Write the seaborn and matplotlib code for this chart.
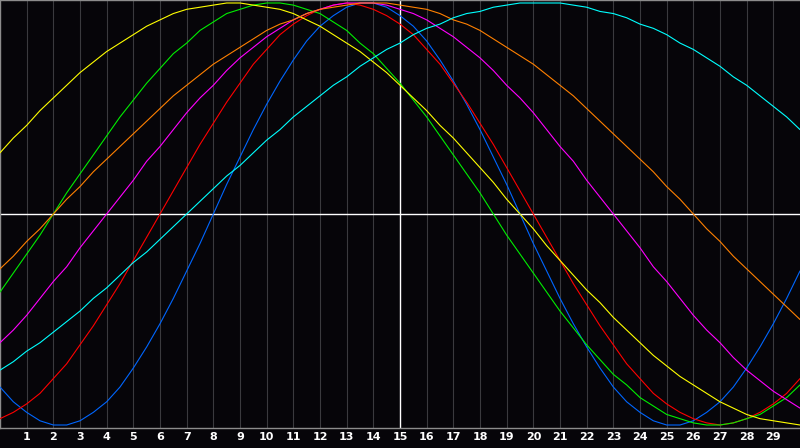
import numpy as np
import pandas as pd
import matplotlib
matplotlib.use('Agg')
import matplotlib.pyplot as plt
import seaborn as sns

# Days shown on the chart (0 .. 30) and the half days between them
days = list(range(31))
half_days = [d + 0.5 for d in range(30)]
tick_days = list(range(1, 30))
tick_labels = [str(d) for d in tick_days]

# Cycle values: on whole days ...
physical_23 = [-0.82, -0.94, -1.00, -0.98, -0.89, -0.73, -0.52, -0.27, 0.00, 0.27, 0.52, 0.73, 0.89, 0.98, 1.00, 0.94,
               0.82, 0.63, 0.40, 0.14, -0.14, -0.40, -0.63, -0.82, -0.94, -1.00, -0.98, -0.89, -0.73, -0.52, -0.27]
emotional_28 = [-0.97, -0.90, -0.78, -0.62, -0.43, -0.22, 0.00, 0.22, 0.43, 0.62, 0.78, 0.90, 0.97, 1.00, 0.97, 0.90,
                0.78, 0.62, 0.43, 0.22, 0.00, -0.22, -0.43, -0.62, -0.78, -0.90, -0.97, -1.00, -0.97, -0.90, -0.78]
intellectual_33 = [-0.37, -0.19, 0.00, 0.19, 0.37, 0.54, 0.69, 0.81, 0.91, 0.97, 1.00, 0.99, 0.95, 0.87, 0.76, 0.62,
                   0.46, 0.28, 0.10, -0.10, -0.28, -0.46, -0.62, -0.76, -0.87, -0.95, -0.99, -1.00, -0.97, -0.91, -0.81]
intuitive_38 = [-0.61, -0.48, -0.32, -0.16, 0.00, 0.16, 0.32, 0.48, 0.61, 0.74, 0.84, 0.92, 0.97, 1.00, 1.00, 0.97,
                0.92, 0.84, 0.74, 0.61, 0.48, 0.32, 0.16, 0.00, -0.16, -0.32, -0.48, -0.61, -0.74, -0.84, -0.92]
aesthetic_43 = [0.29, 0.42, 0.55, 0.67, 0.77, 0.85, 0.92, 0.97, 0.99, 1.00, 0.98, 0.95, 0.89, 0.81, 0.72, 0.61,
                0.49, 0.36, 0.22, 0.07, -0.07, -0.22, -0.36, -0.49, -0.61, -0.72, -0.81, -0.89, -0.95, -0.98, -1.00]
awareness_48 = [-0.26, -0.13, 0.00, 0.13, 0.26, 0.38, 0.50, 0.61, 0.71, 0.79, 0.87, 0.92, 0.97, 0.99, 1.00, 0.99,
                0.97, 0.92, 0.87, 0.79, 0.71, 0.61, 0.50, 0.38, 0.26, 0.13, 0.00, -0.13, -0.26, -0.38, -0.50]
spiritual_53 = [-0.74, -0.65, -0.56, -0.46, -0.35, -0.23, -0.12, 0.00, 0.12, 0.23, 0.35, 0.46, 0.56, 0.65, 0.74, 0.81,
                0.88, 0.93, 0.96, 0.99, 1.00, 1.00, 0.98, 0.95, 0.90, 0.85, 0.78, 0.70, 0.61, 0.51, 0.40]

# ... and on the half days
physical_23_half = [-0.89, -0.98, -1.00, -0.94, -0.82, -0.63, -0.40, -0.14, 0.14, 0.40, 0.63, 0.82, 0.94, 1.00, 0.98,
                    0.89, 0.73, 0.52, 0.27, 0.00, -0.27, -0.52, -0.73, -0.89, -0.98, -1.00, -0.94, -0.82, -0.63, -0.40]
emotional_28_half = [-0.94, -0.85, -0.71, -0.53, -0.33, -0.11, 0.11, 0.33, 0.53, 0.71, 0.85, 0.94, 0.99, 0.99, 0.94,
                     0.85, 0.71, 0.53, 0.33, 0.11, -0.11, -0.33, -0.53, -0.71, -0.85, -0.94, -0.99, -0.99, -0.94, -0.85]
intellectual_33_half = [-0.28, -0.10, 0.10, 0.28, 0.46, 0.62, 0.76, 0.87, 0.95, 0.99, 1.00, 0.97, 0.91, 0.81, 0.69,
                        0.54, 0.37, 0.19, 0.00, -0.19, -0.37, -0.54, -0.69, -0.81, -0.91, -0.97, -1.00, -0.99, -0.95, -0.87]
intuitive_38_half = [-0.55, -0.40, -0.25, -0.08, 0.08, 0.25, 0.40, 0.55, 0.68, 0.79, 0.88, 0.95, 0.99, 1.00, 0.99,
                     0.95, 0.88, 0.79, 0.68, 0.55, 0.40, 0.25, 0.08, -0.08, -0.25, -0.40, -0.55, -0.68, -0.79, -0.88]
aesthetic_43_half = [0.36, 0.49, 0.61, 0.72, 0.81, 0.89, 0.95, 0.98, 1.00, 0.99, 0.97, 0.92, 0.85, 0.77, 0.67,
                     0.55, 0.42, 0.29, 0.15, 0.00, -0.15, -0.29, -0.42, -0.55, -0.67, -0.77, -0.85, -0.92, -0.97, -0.99]
awareness_48_half = [-0.20, -0.07, 0.07, 0.20, 0.32, 0.44, 0.56, 0.66, 0.75, 0.83, 0.90, 0.95, 0.98, 1.00, 1.00,
                     0.98, 0.95, 0.90, 0.83, 0.75, 0.66, 0.56, 0.44, 0.32, 0.20, 0.07, -0.07, -0.20, -0.32, -0.44]
spiritual_53_half = [-0.70, -0.61, -0.51, -0.40, -0.29, -0.18, -0.06, 0.06, 0.18, 0.29, 0.40, 0.51, 0.61, 0.70, 0.78,
                     0.85, 0.90, 0.95, 0.98, 1.00, 1.00, 0.99, 0.96, 0.93, 0.88, 0.81, 0.74, 0.65, 0.56, 0.46]

series_names = ['physical', 'emotional', 'intellectual', 'intuitive', 'aesthetic', 'awareness', 'spiritual']
series_values = [physical_23, emotional_28, intellectual_33, intuitive_38, aesthetic_43, awareness_48, spiritual_53]
series_half = [physical_23_half, emotional_28_half, intellectual_33_half, intuitive_38_half,
               aesthetic_43_half, awareness_48_half, spiritual_53_half]
series_colors = ['#0066ff', '#ff0000', '#00ee00', '#ff00ff', '#ffff00', '#ff8000', '#00ffff']

today = 15

frames = []
for n, v, h in zip(series_names, series_values, series_half):
    frames.append(pd.DataFrame({'day': days, 'value': v, 'cycle': n}))
    frames.append(pd.DataFrame({'day': half_days, 'value': h, 'cycle': n}))
df = pd.concat(frames, ignore_index=True).sort_values(['cycle', 'day'])

bg = '#060509'
sns.set_theme(style='dark')
fig = plt.figure(figsize=(8, 4.48), dpi=100, facecolor=bg)
ax = fig.add_axes([0, 20 / 448, 1, 428 / 448])
ax.set_facecolor(bg)

# grid
for d in tick_days:
    ax.axvline(d, color='#ffffff' if d == today else '#3a3a3e', lw=1.0 if d == today else 0.8, zorder=1)
ax.axhline(0, color='#ffffff', lw=1.0, zorder=1)

sns.lineplot(data=df, x='day', y='value', hue='cycle', hue_order=series_names,
             palette=dict(zip(series_names, series_colors)), estimator=None, sort=True,
             linewidth=0.8, legend=False, ax=ax, zorder=3)

ax.set_xlim(days[0], days[-1])
ax.set_ylim(-1.0142, 1.0142)
ax.set_xticks(tick_days)
ax.set_xticklabels(tick_labels, color='white', fontsize=8, fontweight='bold', family='DejaVu Sans')
ax.tick_params(axis='x', length=0, pad=3)
ax.set_yticks([])
ax.set_xlabel('')
ax.set_ylabel('')
ax.grid(False)
for side, sp in ax.spines.items():
    sp.set_visible(True)
    sp.set_color('#8c8c8c')
    sp.set_linewidth(1.0)
ax.spines['right'].set_visible(False)

fig.savefig('out.png', dpi=100, facecolor=bg)
